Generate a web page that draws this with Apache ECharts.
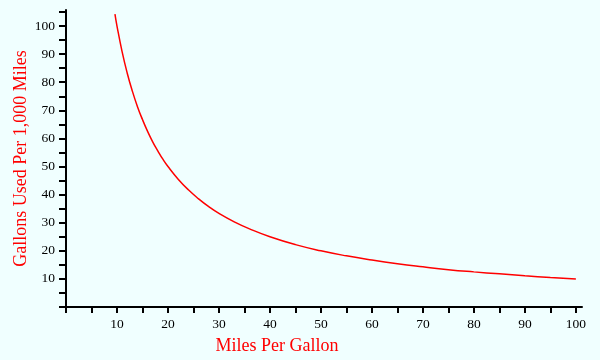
<!DOCTYPE html>
<html><head><meta charset="utf-8">
<script src="https://cdn.jsdelivr.net/npm/echarts@6/dist/echarts.min.js"></script>
<style>html,body{margin:0;padding:0;background:#F0FFFF;}#c{width:600px;height:360px;}</style>
</head><body><div id="c"></div>
<script>
const mpg = [9.6, 10, 11, 12, 13, 14, 15, 16, 17, 18, 19, 20, 22, 24, 26, 28, 30, 33, 36, 40, 45, 50, 55, 60, 65, 70, 75, 80, 85, 90, 95, 100];
const gallons = [104.2, 100, 90.9, 83.3, 76.9, 71.4, 66.7, 62.5, 58.8, 55.6, 52.6, 50, 45.5, 41.7, 38.5, 35.7, 33.3, 30.3, 27.8, 25, 22.2, 20, 18.2, 16.7, 15.4, 14.3, 13.3, 12.5, 11.8, 11.1, 10.5, 10];
const xTitle = 'Miles Per Gallon';
const yTitle = 'Gallons Used Per 1,000 Miles';

const chart = echarts.init(document.getElementById('c'));
const font = 'Liberation Serif';
chart.setOption({
  backgroundColor: '#F0FFFF',
  animation: false,
  grid: {left: 66, right: 18, top: 10, bottom: 53, containLabel: false, outerBoundsMode: 'none'},
  xAxis: {
    type: 'value', min: 0, max: 101.2, interval: 5,
    name: xTitle, nameLocation: 'middle', nameGap: 30, nameMoveOverlap: false,
    nameTextStyle: {color: 'red', fontFamily: font, fontSize: 18, padding: [0, 94, 0, 0]},
    splitLine: {show: false},
    axisLine: {lineStyle: {color: '#000', width: 2}},
    axisTick: {length: 6, lineStyle: {color: '#000', width: 2}},
    axisLabel: {color: '#000', fontFamily: font, fontSize: 13.5, margin: 10, showMaxLabel: false,
      formatter: v => (v > 0 && v % 10 === 0) ? String(v) : ''}
  },
  yAxis: {
    type: 'value', min: 0, max: 105.7, interval: 5,
    name: yTitle, nameLocation: 'middle', nameGap: 36, nameMoveOverlap: false,
    nameTextStyle: {color: 'red', fontFamily: font, fontSize: 18},
    splitLine: {show: false},
    axisLine: {lineStyle: {color: '#000', width: 2}},
    axisTick: {length: 7, lineStyle: {color: '#000', width: 2}},
    axisLabel: {color: '#000', fontFamily: font, fontSize: 13.5, margin: 11, showMaxLabel: false,
      formatter: v => (v > 0 && v % 10 === 0) ? String(v) : ''}
  },
  series: [{
    type: 'line', smooth: true, showSymbol: false,
    data: mpg.map((m, i) => [m, gallons[i]]),
    lineStyle: {color: 'red', width: 1.5}
  }]
});
</script></body></html>
